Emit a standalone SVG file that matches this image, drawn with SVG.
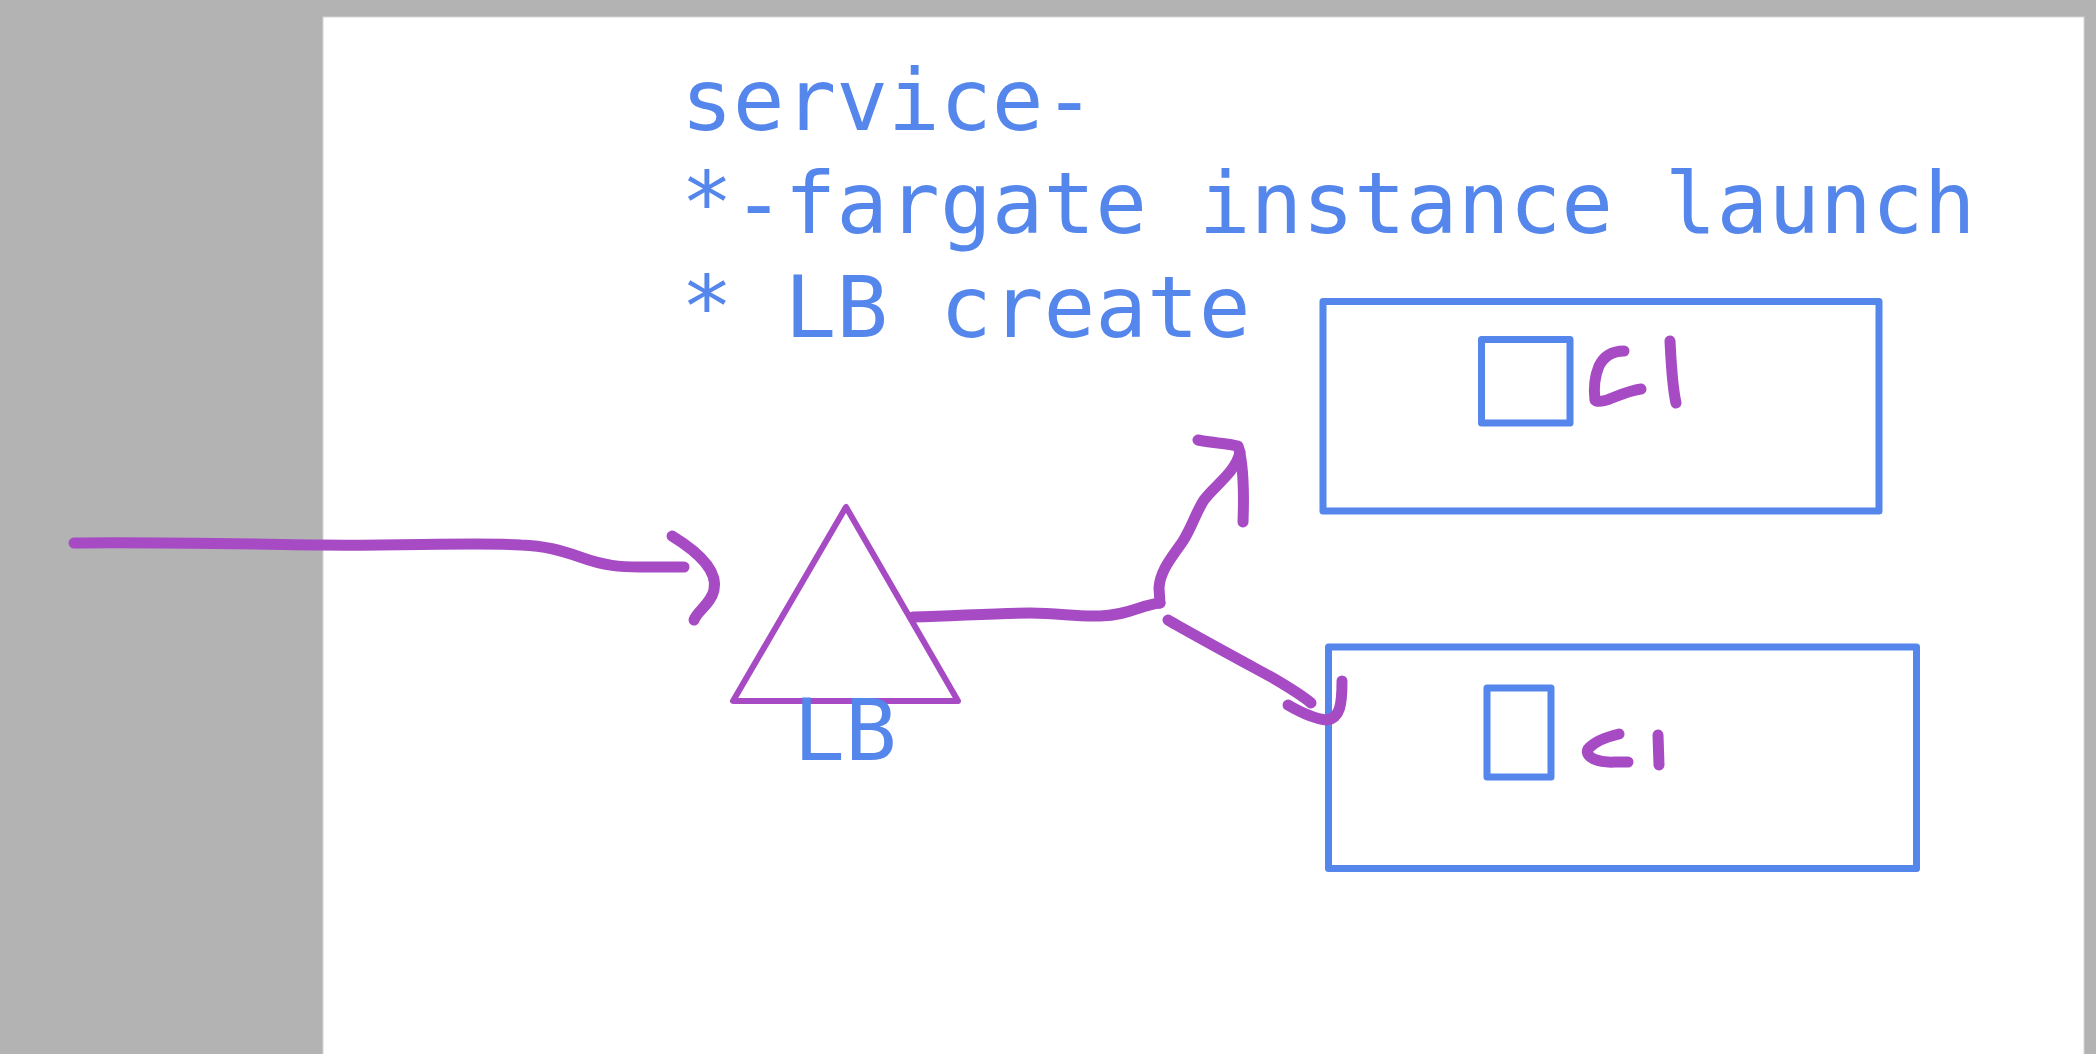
<svg xmlns="http://www.w3.org/2000/svg" width="2096" height="1054" viewBox="0 0 2096 1054">
  <style>
    .t { font-family: "DejaVu Sans Mono", "Liberation Mono", monospace; font-size: 86px; fill: #5486EC; }
    .box { fill: none; stroke: #5486EC; stroke-width: 7; stroke-linejoin: round; }
    .ink { fill: none; stroke: #A64BC4; stroke-width: 11; stroke-linecap: round; stroke-linejoin: round; }
    .ink-thin { fill: #ffffff; stroke: #A64BC4; stroke-width: 6; stroke-linejoin: round; }
  </style>
  <rect x="0" y="0" width="2096" height="1054" fill="#b3b3b3"/>
  <rect x="323" y="17" width="1761" height="1040" fill="#ffffff" stroke="#d6d6d6" stroke-width="1"/>

  <g id="title">
    <text class="t" x="681" y="130">service-</text>
    <text class="t" x="681" y="233">*-fargate instance launch</text>
    <text class="t" x="681" y="337">* LB create</text>
  </g>

  <g id="lb">
    <polygon class="ink-thin" points="846,507 733,701 958,701"/>
    <text class="t" x="845" y="760" text-anchor="middle">LB</text>
  </g>

  <g id="box1">
    <rect class="box" x="1323" y="301.5" width="556" height="209.5"/>
    <rect class="box" x="1481.5" y="339.5" width="88.5" height="83.5"/>
    <path class="ink" d="M1624,351 C1612,351 1604,356 1599,366 C1594,378 1594,392 1595,400 C1598,403 1605,401 1612,398 C1622,394 1632,390 1641,389"/>
    <path class="ink" d="M1670,341 C1671,360 1672,385 1676,403"/>
  </g>

  <g id="box2">
    <rect class="box" x="1328.5" y="647" width="588" height="221.5"/>
    <rect class="box" x="1487" y="688" width="64" height="89"/>
    <path class="ink" d="M1619,734 C1606,737 1594,742 1588,749 C1584,758 1600,763 1615,762 L1628,762"/>
    <path class="ink" d="M1658,735 L1659,765"/>
  </g>

  <g id="connectors">
    <path class="ink" d="M74,543 C150,542 250,544 321,545 C400,546 480,542 521,545 C545,546 560,550 580,557 C605,566 620,567 640,567 L684,567"/>
    <path class="ink" d="M672,536 C700,553 718,572 714,590 C711,604 697,611 694,620"/>
    <path class="ink" d="M913,617 C970,615 1000,613 1030,613 C1060,613 1075,617 1100,616 C1130,615 1140,605 1160,603"/>
    <path class="ink" d="M1160,603 L1159,588 C1160,570 1173,556 1183,541 C1192,527 1196,512 1204,500 C1214,486 1236,472 1240,452"/>
    <path class="ink" d="M1198,440 C1212,443 1226,443 1238,446 C1244,465 1244,495 1243,522"/>
    <path class="ink" d="M1168,620 C1190,633 1240,660 1273,678 C1290,688 1303,696 1311,703"/>
    <path class="ink" d="M1288,705 C1300,712 1315,719 1327,720 C1340,718 1342,705 1342,681"/>
  </g>
</svg>
